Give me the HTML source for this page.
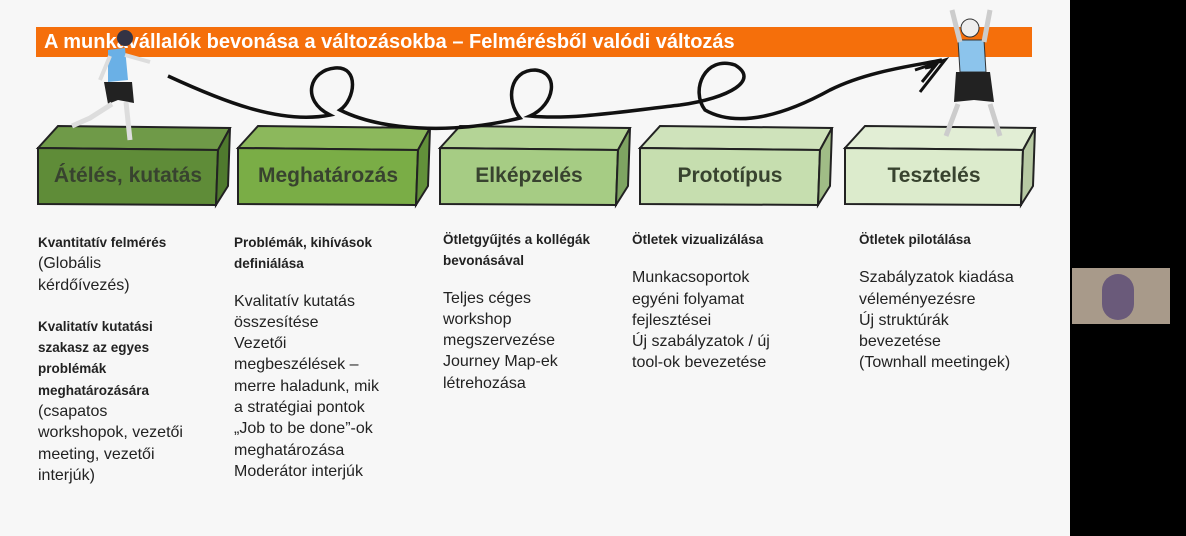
<!DOCTYPE html>
<html><head><meta charset="utf-8"><style>
body{margin:0;width:1186px;height:536px;overflow:hidden;background:#f7f7f7;font-family:"Liberation Sans",sans-serif;position:relative}
.bar{position:absolute;left:36px;top:27px;width:996px;height:30px;background:#f56f0b;color:#fff;font-weight:bold;font-size:20px;line-height:30px;padding-left:8px;box-sizing:border-box}
.col{position:absolute;color:#222;font-size:16px;line-height:21.3px}
.col b{font-size:13.5px;display:block}
.lbl{position:absolute;font-weight:bold;font-size:21px;color:#38432f;text-align:center}
.black{position:absolute;left:1070px;top:0;width:116px;height:536px;background:#000}
</style></head><body>
<div class="bar">A munkavállalók bevonása a változásokba – Felmérésből valódi változás</div>
<svg width="1070" height="536" style="position:absolute;left:0;top:0">
<g stroke="#222" stroke-width="2">
<path d="M38 148 L58 126 L230 128 L218 150 Z" fill="#6f9a48"/><path d="M38 148 L218 150 L216 205 L38 204 Z" fill="#5f8c38"/><path d="M218 150 L230 128 L228 186 L216 205 Z" fill="#4f7a2e"/>
<path d="M238 148 L258 126 L430 128 L418 150 Z" fill="#8cb85c"/><path d="M238 148 L418 150 L416 205 L238 204 Z" fill="#7aad46"/><path d="M418 150 L430 128 L428 186 L416 205 Z" fill="#62913a"/>
<path d="M440 148 L460 126 L630 128 L618 150 Z" fill="#b4d496"/><path d="M440 148 L618 150 L616 205 L440 204 Z" fill="#a6cc84"/><path d="M618 150 L630 128 L628 186 L616 205 Z" fill="#7ea462"/>
<path d="M640 148 L660 126 L832 128 L820 150 Z" fill="#cfe3bb"/><path d="M640 148 L820 150 L818 205 L640 204 Z" fill="#c6deaf"/><path d="M820 150 L832 128 L830 186 L818 205 Z" fill="#a0bc86"/>
<path d="M845 148 L865 126 L1035 128 L1023 150 Z" fill="#e2eed5"/><path d="M845 148 L1023 150 L1021 205 L845 204 Z" fill="#dcebcc"/><path d="M1023 150 L1035 128 L1033 186 L1021 205 Z" fill="#b7c9a3"/>
</g>
<path d="M168 76 C220 100 280 125 330 115 C300 100 310 70 335 68 C360 66 355 100 340 110 C380 130 450 135 520 118 C505 100 510 70 535 70 C560 72 555 105 530 116 C570 120 620 112 680 105 C730 98 760 80 735 65 C705 55 690 90 705 110 C740 130 790 112 830 90 C870 70 920 65 942 60" fill="none" stroke="#111" stroke-width="3.5"/>
<path d="M915 70 L945 60 L920 92 M925 68 L935 66 L922 82" fill="none" stroke="#111" stroke-width="3"/>
<circle cx="125" cy="38" r="8" fill="#334"/>
<path d="M108 50 L125 48 L128 80 L108 82 Z" fill="#6ab0e6"/>
<path d="M104 82 L132 82 L134 103 L118 100 L108 104 Z" fill="#222"/>
<path d="M112 104 L90 118 L72 126 M126 102 L130 140" stroke="#ddd" stroke-width="5" fill="none"/>
<path d="M125 55 L150 62 M110 56 L100 80" stroke="#ddd" stroke-width="4" fill="none"/>
<circle cx="970" cy="28" r="9" fill="#eee" stroke="#333"/>
<path d="M958 40 L984 40 L986 72 L960 72 Z" fill="#8cc4ec" stroke="#333"/>
<path d="M956 72 L990 72 L994 102 L974 100 L954 102 Z" fill="#222"/>
<path d="M958 104 L946 136 M990 104 L1000 136 M960 42 L952 10 M984 42 L990 10" stroke="#ccc" stroke-width="5" fill="none"/>
</svg>
<div class="lbl" style="left:38px;top:164px;width:180px">Átélés, kutatás</div>
<div class="lbl" style="left:238px;top:164px;width:180px">Meghatározás</div>
<div class="lbl" style="left:440px;top:164px;width:178px">Elképzelés</div>
<div class="lbl" style="left:640px;top:164px;width:180px">Prototípus</div>
<div class="lbl" style="left:845px;top:164px;width:178px">Tesztelés</div>

<div class="col" style="left:38px;top:232px"><b>Kvantitatív felmérés</b>(Globális<br>kérdőívezés)<div style="height:20px"></div><b>Kvalitatív kutatási<br>szakasz az egyes<br>problémák<br>meghatározására</b>(csapatos<br>workshopok, vezetői<br>meeting, vezetői<br>interjúk)</div>
<div class="col" style="left:234px;top:232px"><b>Problémák, kihívások<br>definiálása</b><div style="height:16px"></div>Kvalitatív kutatás<br>összesítése<br>Vezetői<br>megbeszélések –<br>merre haladunk, mik<br>a stratégiai pontok<br>„Job to be done”-ok<br>meghatározása<br>Moderátor interjúk</div>
<div class="col" style="left:443px;top:229px"><b>Ötletgyűjtés a kollégák<br>bevonásával</b><div style="height:16px"></div>Teljes céges<br>workshop<br>megszervezése<br>Journey Map-ek<br>létrehozása</div>
<div class="col" style="left:632px;top:229px"><b>Ötletek vizualizálása</b><div style="height:17px"></div>Munkacsoportok<br>egyéni folyamat<br>fejlesztései<br>Új szabályzatok / új<br>tool-ok bevezetése</div>
<div class="col" style="left:859px;top:229px"><b>Ötletek pilotálása</b><div style="height:17px"></div>Szabályzatok kiadása<br>véleményezésre<br>Új struktúrák<br>bevezetése<br>(Townhall meetingek)</div>
<div class="black"></div>
<div style="position:absolute;left:1072px;top:268px;width:98px;height:56px;background:#a89a8a"><div style="position:absolute;left:30px;top:6px;width:32px;height:46px;border-radius:16px;background:#6a5a7a"></div></div>
</body></html>
